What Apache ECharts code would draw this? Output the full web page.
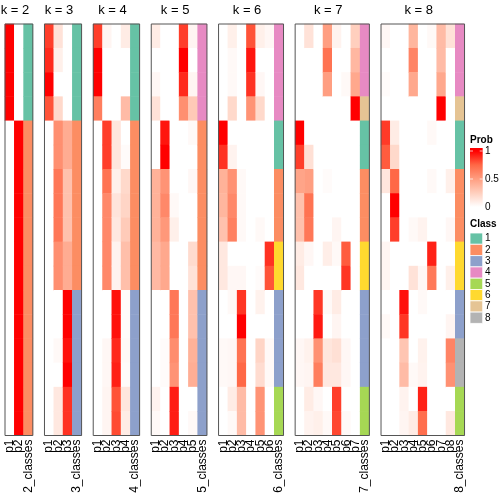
<!DOCTYPE html>
<html><head><meta charset="utf-8">
<script src="https://cdn.jsdelivr.net/npm/echarts@6/dist/echarts.min.js"></script>
<style>html,body{margin:0;padding:0;background:#fff}#c{width:504px;height:504px}</style>
</head><body><div id="c"></div>
<script>
// ---- data ----
const classColors = ['#66C2A5','#FC8D62','#8DA0CB','#E78AC3','#A6D854','#FFD92F','#E5C494','#B3B3B3'];
const classLabels = ['1','2','3','4','5','6','7','8'];
const probColors = ['#ffffff','#ffcfbe','#ff9e81','#ff6846','#ff0000'];
const probTicks = ['1','0.5','0'];
const rowCount = 17;

const k2_prob = [
  [1,1,1,1,0,0,0,0,0,0,0,0,0,0,0,0,0],
  [0,0,0,0,1,1,1,1,1,1,1,1,1,1,1,1,1]
];
const k2_class = [1,1,1,1,2,2,2,2,2,2,2,2,2,2,2,2,2];

const k3_prob = [
  [0.85,0.9,1,0.8,0,0,0,0,0,0,0,0,0,0,0,0,0],
  [0.15,0.08,0,0.2,0.57,0.57,0.68,0.68,0.68,0.57,0.57,0,0,0.03,0,0.12,0.12],
  [0,0,0,0,0.43,0.43,0.32,0.32,0.32,0.43,0.43,1,1,0.96,1,0.88,0.88]
];
const k3_class = [1,1,1,1,2,2,2,2,2,2,2,3,3,3,3,3,3];

const k4_prob = [
  [0.85,1,1,0.65,0,0,0,0,0,0,0,0,0,0,0,0,0],
  [0.05,0,0,0,0.85,0.85,0.7,0.6,0.6,0.6,0.6,0,0,0.04,0.04,0.05,0.05],
  [0,0,0,0,0.13,0.13,0.08,0.14,0.12,0.06,0.06,0.96,0.96,0.9,0.92,0.8,0.82],
  [0.1,0,0,0.35,0,0.02,0.2,0.22,0.27,0.33,0.33,0.02,0.02,0.03,0.02,0.13,0.1]
];
const k4_class = [1,1,1,1,2,2,2,2,2,2,2,3,3,3,3,3,3];

const k5_prob = [
  [0.1,0,0.04,0.15,0,0,0.4,0.4,0.4,0.36,0.36,0,0,0,0,0.06,0.03],
  [0,0,0,0,0.95,1,0.55,0.6,0.53,0.45,0.45,0,0,0.02,0.02,0,0],
  [0,0,0,0,0,0,0,0.03,0.08,0,0,0.68,0.68,0.58,0.55,0.93,0.93],
  [0.85,1,0.9,0.57,0,0,0,0,0,0,0,0,0,0,0,0,0],
  [0.05,0,0.05,0.28,0.03,0,0.04,0,0,0.19,0.15,0.32,0.32,0.4,0.42,0,0.03]
];
const k5_class = [4,4,4,4,2,2,2,2,2,2,2,3,3,3,3,3,3];

const k6_prob = [
  [0,0,0,0,1,0.88,0.4,0.38,0.32,0.12,0.12,0,0,0.03,0.03,0,0],
  [0.08,0.03,0.03,0.2,0,0.06,0.56,0.6,0.64,0,0.04,0.03,0,0.04,0.04,0.1,0.03],
  [0,0,0,0,0,0,0.03,0.03,0.03,0,0.04,0.87,1,0.7,0.75,0.35,0.35],
  [0.8,0.95,0.88,0.55,0,0,0,0,0,0,0,0,0,0,0,0,0],
  [0.08,0,0.04,0.2,0,0,0,0,0.03,0,0.02,0.07,0,0.22,0.18,0.55,0.55],
  [0.04,0,0,0,0,0,0,0,0,0.88,0.8,0,0,0.03,0.03,0,0]
];
const k6_class = [4,4,4,4,1,1,2,2,2,6,6,3,3,3,3,5,5];

const k7_prob = [
  [0,0,0,0,1,0.85,0.47,0.32,0.32,0.1,0.12,0,0,0.04,0.04,0,0],
  [0.15,0,0,0,0,0.16,0.5,0.7,0.68,0.04,0,0,0,0.07,0.05,0.1,0.06],
  [0,0,0,0,0,0,0,0,0,0,0,0.87,0.94,0.56,0.65,0.04,0.08],
  [0.5,0.7,0.5,0,0,0,0.02,0,0,0.09,0,0.03,0,0.13,0.12,0,0.03],
  [0.06,0,0,0,0,0,0,0,0.05,0.03,0,0.1,0.05,0.16,0.12,0.85,0.83],
  [0,0,0.03,0,0,0,0,0,0,0.78,0.87,0,0,0.04,0.04,0,0.03],
  [0.25,0.37,0.45,1,0,0,0,0,0,0,0,0,0,0,0,0,0]
];
const k7_class = [4,4,4,7,1,1,2,2,2,6,6,3,3,3,3,5,5];

const k8_prob = [
  [0.04,0,0.02,0,0.86,0.78,0.13,0,0,0.05,0.05,0,0.03,0,0,0,0],
  [0,0,0,0,0.1,0.2,0.75,1,0.85,0,0,0,0,0,0,0,0],
  [0,0,0,0,0,0,0,0,0,0,0,0.96,0.87,0.3,0.35,0.06,0.05],
  [0.38,0.62,0.45,0,0,0,0,0,0.03,0,0.15,0,0,0,0.03,0,0.1],
  [0,0,0,0,0,0,0,0,0.06,0,0.04,0.03,0,0.07,0.06,0.92,0.72],
  [0.03,0,0,0,0.03,0,0.03,0,0,0.92,0.67,0,0,0,0,0,0],
  [0.35,0.35,0.45,1,0,0,0,0,0,0,0,0,0,0,0,0,0],
  [0.15,0,0,0,0,0,0.08,0,0.04,0,0.08,0,0.05,0.62,0.56,0,0.12]
];
const k8_class = [4,4,4,7,1,1,2,2,2,6,6,3,3,8,8,5,5];

const panels = [
  {k:2, prob:k2_prob, cls:k2_class},
  {k:3, prob:k3_prob, cls:k3_class},
  {k:4, prob:k4_prob, cls:k4_class},
  {k:5, prob:k5_prob, cls:k5_class},
  {k:6, prob:k6_prob, cls:k6_class},
  {k:7, prob:k7_prob, cls:k7_class},
  {k:8, prob:k8_prob, cls:k8_class}
];

// ---- layout ----
const FONT = 'Liberation Sans, Arial, Helvetica, sans-serif';
const COL_W = 9.28, GAP = 11.63, LEFT0 = 5, TOP = 24, HEIGHT = 411.5;

const rows = Array.from({length: rowCount}, (_, i) => 'r' + i);
const grids = [], xAxes = [], yAxes = [], series = [], graphics = [];
const probIdx = [], clsIdx = [];
let left = LEFT0;
panels.forEach((p, i) => {
  const ncol = p.prob.length + 1;
  const w = ncol * COL_W;
  grids.push({left: left, top: TOP, width: w, height: HEIGHT, show: true,
    borderColor: '#555', borderWidth: 1, backgroundColor: 'transparent', z: 5});
  const cats = p.prob.map((_, j) => 'p' + (j + 1)).concat([p.k + '_classes']);
  xAxes.push({type: 'category', gridIndex: i, data: cats, position: 'bottom',
    axisLine: {show: false}, axisTick: {show: false}, splitLine: {show: false},
    axisLabel: {rotate: 90, interval: 0, hideOverlap: false, margin: 4, fontSize: 12,
      color: '#000', fontFamily: FONT}});
  yAxes.push({type: 'category', gridIndex: i, data: rows, inverse: true, show: false});
  const pd = [];
  p.prob.forEach((col, c) => col.forEach((v, r) => pd.push([c, r, v])));
  probIdx.push(series.length);
  series.push({type: 'heatmap', xAxisIndex: i, yAxisIndex: i, data: pd,
    emphasis: {disabled: true}, itemStyle: {borderWidth: 0}});
  const cd = p.cls.map((v, r) => [p.prob.length, r, v]);
  clsIdx.push(series.length);
  series.push({type: 'heatmap', xAxisIndex: i, yAxisIndex: i, data: cd,
    emphasis: {disabled: true}, itemStyle: {borderWidth: 0}});
  graphics.push({type: 'text', x: left + w / 2 - 4, y: 10.5,
    style: {text: 'k = ' + p.k, font: '13px ' + FONT, fill: '#000',
      textAlign: 'center', textVerticalAlign: 'middle'}});
  left += w + GAP;
});

// ---- legends ----
const LX = 470;
graphics.push({type: 'text', x: LX, y: 140, style: {text: 'Prob', font: 'bold 10px ' + FONT,
  fill: '#000', textAlign: 'left', textVerticalAlign: 'middle'}});
const barTop = 148, barH = 62, v1y = 151, v0y = 207;
const stops = [{offset: 0, color: probColors[4]}];
probColors.slice().reverse().forEach((c, i) => {
  const v = 1 - i / (probColors.length - 1);
  const y = v0y - v * (v0y - v1y);
  stops.push({offset: (y - barTop) / barH, color: c});
});
stops.push({offset: 1, color: probColors[0]});
graphics.push({type: 'rect', shape: {x: LX, y: barTop, width: 12.7, height: barH},
  style: {fill: {type: 'linear', x: 0, y: 0, x2: 0, y2: 1, colorStops: stops}}});
probTicks.forEach((t, i) => {
  const v = parseFloat(t);
  const y = v0y - v * (v0y - v1y);
  if (v > 0) {
    graphics.push({type: 'line', shape: {x1: LX, y1: y, x2: LX + 3, y2: y}, style: {stroke: '#fff', lineWidth: 1, opacity: 0.7}});
    graphics.push({type: 'line', shape: {x1: LX + 9.7, y1: y, x2: LX + 12.7, y2: y}, style: {stroke: '#fff', lineWidth: 1, opacity: 0.7}});
  }
  graphics.push({type: 'text', x: LX + 15, y: y, style: {text: t, font: '10px ' + FONT,
    fill: '#000', textAlign: 'left', textVerticalAlign: 'middle'}});
});
graphics.push({type: 'text', x: LX, y: 224, style: {text: 'Class', font: 'bold 10px ' + FONT,
  fill: '#000', textAlign: 'left', textVerticalAlign: 'middle'}});
classLabels.forEach((t, i) => {
  const y = 233 + i * 11.3;
  graphics.push({type: 'rect', shape: {x: LX, y: y, width: 12.7, height: 11.3},
    style: {fill: classColors[i], stroke: '#fff', lineWidth: 0.8}});
  graphics.push({type: 'text', x: LX + 15, y: y + 5.65, style: {text: t, font: '10px ' + FONT,
    fill: '#000', textAlign: 'left', textVerticalAlign: 'middle'}});
});

const chart = echarts.init(document.getElementById('c'), null, {renderer: 'canvas'});
chart.setOption({
  animation: false,
  backgroundColor: '#fff',
  grid: grids, xAxis: xAxes, yAxis: yAxes, series: series,
  visualMap: [
    {type: 'continuous', min: 0, max: 1, dimension: 2, seriesIndex: probIdx, show: false,
      inRange: {color: probColors}},
    {type: 'piecewise', dimension: 2, seriesIndex: clsIdx, show: false,
      pieces: classColors.map((c, i) => ({value: i + 1, color: c}))}
  ],
  graphic: graphics
});
</script>
</body></html>
